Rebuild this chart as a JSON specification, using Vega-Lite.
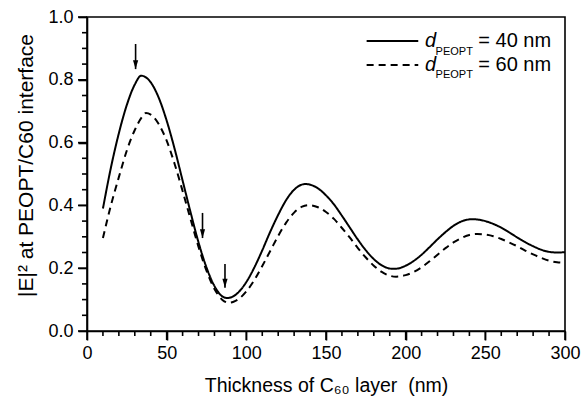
{
  "$schema": "https://vega.github.io/schema/vega-lite/v6.json",
  "width": 478,
  "height": 314,
  "autosize": "none",
  "padding": {"left": 87, "top": 17, "right": 23, "bottom": 67},
  "background": "white",
  "config": {
    "view": {"stroke": "black", "strokeWidth": 1.6},
    "font": "Liberation Sans"
  },
  "datasets": {
    "curves": [
      {"t": 10, "E2": 0.39, "d": "40 nm"}, {"t": 15, "E2": 0.52, "d": "40 nm"}, {"t": 20, "E2": 0.63, "d": "40 nm"},
      {"t": 25, "E2": 0.72, "d": "40 nm"}, {"t": 30, "E2": 0.785, "d": "40 nm"}, {"t": 34, "E2": 0.813, "d": "40 nm"},
      {"t": 40, "E2": 0.792, "d": "40 nm"}, {"t": 45, "E2": 0.743, "d": "40 nm"}, {"t": 50, "E2": 0.67, "d": "40 nm"},
      {"t": 55, "E2": 0.58, "d": "40 nm"}, {"t": 60, "E2": 0.479, "d": "40 nm"}, {"t": 65, "E2": 0.378, "d": "40 nm"},
      {"t": 70, "E2": 0.282, "d": "40 nm"}, {"t": 75, "E2": 0.202, "d": "40 nm"}, {"t": 80, "E2": 0.143, "d": "40 nm"},
      {"t": 85, "E2": 0.11, "d": "40 nm"}, {"t": 88, "E2": 0.105, "d": "40 nm"}, {"t": 92, "E2": 0.111, "d": "40 nm"},
      {"t": 95, "E2": 0.123, "d": "40 nm"}, {"t": 100, "E2": 0.156, "d": "40 nm"}, {"t": 105, "E2": 0.202, "d": "40 nm"},
      {"t": 110, "E2": 0.257, "d": "40 nm"}, {"t": 115, "E2": 0.316, "d": "40 nm"}, {"t": 120, "E2": 0.37, "d": "40 nm"},
      {"t": 125, "E2": 0.417, "d": "40 nm"}, {"t": 130, "E2": 0.45, "d": "40 nm"}, {"t": 137, "E2": 0.468, "d": "40 nm"},
      {"t": 140, "E2": 0.466, "d": "40 nm"}, {"t": 145, "E2": 0.454, "d": "40 nm"}, {"t": 150, "E2": 0.432, "d": "40 nm"},
      {"t": 155, "E2": 0.403, "d": "40 nm"}, {"t": 160, "E2": 0.367, "d": "40 nm"}, {"t": 165, "E2": 0.329, "d": "40 nm"},
      {"t": 170, "E2": 0.291, "d": "40 nm"}, {"t": 175, "E2": 0.257, "d": "40 nm"}, {"t": 180, "E2": 0.229, "d": "40 nm"},
      {"t": 185, "E2": 0.209, "d": "40 nm"}, {"t": 192, "E2": 0.198, "d": "40 nm"}, {"t": 195, "E2": 0.199, "d": "40 nm"},
      {"t": 200, "E2": 0.208, "d": "40 nm"}, {"t": 205, "E2": 0.223, "d": "40 nm"}, {"t": 210, "E2": 0.243, "d": "40 nm"},
      {"t": 215, "E2": 0.267, "d": "40 nm"}, {"t": 220, "E2": 0.292, "d": "40 nm"}, {"t": 225, "E2": 0.315, "d": "40 nm"},
      {"t": 230, "E2": 0.335, "d": "40 nm"}, {"t": 235, "E2": 0.349, "d": "40 nm"}, {"t": 242, "E2": 0.356, "d": "40 nm"},
      {"t": 245, "E2": 0.355, "d": "40 nm"}, {"t": 250, "E2": 0.35, "d": "40 nm"}, {"t": 255, "E2": 0.341, "d": "40 nm"},
      {"t": 260, "E2": 0.329, "d": "40 nm"}, {"t": 265, "E2": 0.314, "d": "40 nm"}, {"t": 270, "E2": 0.298, "d": "40 nm"},
      {"t": 275, "E2": 0.283, "d": "40 nm"}, {"t": 280, "E2": 0.27, "d": "40 nm"}, {"t": 285, "E2": 0.259, "d": "40 nm"},
      {"t": 290, "E2": 0.252, "d": "40 nm"}, {"t": 295, "E2": 0.25, "d": "40 nm"}, {"t": 300, "E2": 0.251, "d": "40 nm"},

      {"t": 10, "E2": 0.296, "d": "60 nm"}, {"t": 15, "E2": 0.4, "d": "60 nm"}, {"t": 20, "E2": 0.49, "d": "60 nm"},
      {"t": 25, "E2": 0.575, "d": "60 nm"}, {"t": 30, "E2": 0.64, "d": "60 nm"}, {"t": 35, "E2": 0.685, "d": "60 nm"},
      {"t": 37, "E2": 0.694, "d": "60 nm"}, {"t": 40, "E2": 0.689, "d": "60 nm"}, {"t": 45, "E2": 0.659, "d": "60 nm"},
      {"t": 50, "E2": 0.606, "d": "60 nm"}, {"t": 55, "E2": 0.532, "d": "60 nm"}, {"t": 60, "E2": 0.446, "d": "60 nm"},
      {"t": 65, "E2": 0.356, "d": "60 nm"}, {"t": 70, "E2": 0.268, "d": "60 nm"}, {"t": 75, "E2": 0.192, "d": "60 nm"},
      {"t": 80, "E2": 0.134, "d": "60 nm"}, {"t": 85, "E2": 0.099, "d": "60 nm"}, {"t": 89, "E2": 0.09, "d": "60 nm"},
      {"t": 92, "E2": 0.093, "d": "60 nm"}, {"t": 95, "E2": 0.101, "d": "60 nm"}, {"t": 100, "E2": 0.126, "d": "60 nm"},
      {"t": 105, "E2": 0.162, "d": "60 nm"}, {"t": 110, "E2": 0.207, "d": "60 nm"}, {"t": 115, "E2": 0.255, "d": "60 nm"},
      {"t": 120, "E2": 0.303, "d": "60 nm"}, {"t": 125, "E2": 0.345, "d": "60 nm"}, {"t": 130, "E2": 0.377, "d": "60 nm"},
      {"t": 135, "E2": 0.396, "d": "60 nm"}, {"t": 139, "E2": 0.401, "d": "60 nm"}, {"t": 145, "E2": 0.394, "d": "60 nm"},
      {"t": 150, "E2": 0.379, "d": "60 nm"}, {"t": 155, "E2": 0.357, "d": "60 nm"}, {"t": 160, "E2": 0.328, "d": "60 nm"},
      {"t": 165, "E2": 0.297, "d": "60 nm"}, {"t": 170, "E2": 0.264, "d": "60 nm"}, {"t": 175, "E2": 0.234, "d": "60 nm"},
      {"t": 180, "E2": 0.208, "d": "60 nm"}, {"t": 185, "E2": 0.188, "d": "60 nm"}, {"t": 190, "E2": 0.176, "d": "60 nm"},
      {"t": 194, "E2": 0.173, "d": "60 nm"}, {"t": 200, "E2": 0.178, "d": "60 nm"}, {"t": 205, "E2": 0.188, "d": "60 nm"},
      {"t": 210, "E2": 0.203, "d": "60 nm"}, {"t": 215, "E2": 0.222, "d": "60 nm"}, {"t": 220, "E2": 0.243, "d": "60 nm"},
      {"t": 225, "E2": 0.264, "d": "60 nm"}, {"t": 230, "E2": 0.282, "d": "60 nm"}, {"t": 235, "E2": 0.296, "d": "60 nm"},
      {"t": 240, "E2": 0.306, "d": "60 nm"}, {"t": 245, "E2": 0.309, "d": "60 nm"}, {"t": 250, "E2": 0.307, "d": "60 nm"},
      {"t": 255, "E2": 0.302, "d": "60 nm"}, {"t": 260, "E2": 0.293, "d": "60 nm"}, {"t": 265, "E2": 0.282, "d": "60 nm"},
      {"t": 270, "E2": 0.27, "d": "60 nm"}, {"t": 275, "E2": 0.256, "d": "60 nm"}, {"t": 280, "E2": 0.244, "d": "60 nm"},
      {"t": 285, "E2": 0.233, "d": "60 nm"}, {"t": 290, "E2": 0.224, "d": "60 nm"}, {"t": 295, "E2": 0.219, "d": "60 nm"},
      {"t": 300, "E2": 0.217, "d": "60 nm"}
    ],
    "arrows": [
      {"t": 30.5, "top": 0.914, "tip": 0.834},
      {"t": 72.5, "top": 0.376, "tip": 0.296},
      {"t": 86.6, "top": 0.213, "tip": 0.138}
    ],
    "xMajor": [{"v": 0}, {"v": 50}, {"v": 100}, {"v": 150}, {"v": 200}, {"v": 250}, {"v": 300}],
    "xMinor": [
      {"v": 10}, {"v": 20}, {"v": 30}, {"v": 40}, {"v": 60}, {"v": 70}, {"v": 80}, {"v": 90},
      {"v": 110}, {"v": 120}, {"v": 130}, {"v": 140}, {"v": 160}, {"v": 170}, {"v": 180}, {"v": 190},
      {"v": 210}, {"v": 220}, {"v": 230}, {"v": 240}, {"v": 260}, {"v": 270}, {"v": 280}, {"v": 290}
    ],
    "yMajor": [{"v": 0}, {"v": 0.2}, {"v": 0.4}, {"v": 0.6}, {"v": 0.8}, {"v": 1}],
    "yMinor": [
      {"v": 0.05}, {"v": 0.1}, {"v": 0.15}, {"v": 0.25}, {"v": 0.3}, {"v": 0.35}, {"v": 0.45}, {"v": 0.5},
      {"v": 0.55}, {"v": 0.65}, {"v": 0.7}, {"v": 0.75}, {"v": 0.85}, {"v": 0.9}, {"v": 0.95}
    ]
  },
  "resolve": {"axis": {"x": "independent", "y": "independent"}},
  "layer": [
    {
      "data": {"name": "curves"},
      "mark": {"type": "line", "interpolate": "monotone", "color": "black", "strokeWidth": 2},
      "encoding": {
        "x": {
          "field": "t",
          "type": "quantitative",
          "scale": {"domain": [0, 300], "nice": false},
          "axis": {
            "orient": "bottom",
            "values": [0, 50, 100, 150, 200, 250, 300],
            "gridOpacity": 0,
            "domainColor": "black",
            "domainWidth": 1.6,
            "tickSize": 9,
            "tickColor": "black",
            "tickWidth": 1.6,
            "labelColor": "black",
            "labelFont": "Liberation Sans",
            "labelFontSize": 18,
            "labelFlush": false,
            "labelPadding": 4,
            "title": "Thickness of C₆₀ layer\u00a0 (nm)",
            "titleColor": "black",
            "titleFont": "Liberation Sans",
            "titleFontWeight": "normal",
            "titleFontSize": 19.5,
            "titleY": 60,
            "titleBaseline": "alphabetic"
          }
        },
        "y": {
          "field": "E2",
          "type": "quantitative",
          "scale": {"domain": [0, 1], "nice": false},
          "axis": {
            "orient": "left",
            "values": [0, 0.2, 0.4, 0.6, 0.8, 1],
            "format": ".1f",
            "gridOpacity": 0,
            "domainColor": "black",
            "domainWidth": 1.6,
            "tickSize": 9,
            "tickColor": "black",
            "tickWidth": 1.6,
            "labelColor": "black",
            "labelFont": "Liberation Sans",
            "labelFontSize": 18,
            "labelPadding": 5,
            "title": "|E|² at PEOPT/C60 interface",
            "titleColor": "black",
            "titleFont": "Liberation Sans",
            "titleFontWeight": "normal",
            "titleFontSize": 21,
            "titleX": -55,
            "titleY": 148,
            "titleBaseline": "alphabetic"
          }
        },
        "strokeDash": {
          "field": "d",
          "type": "nominal",
          "scale": {"domain": ["40 nm", "60 nm"], "range": [[1, 0], [7, 5]]},
          "legend": null
        }
      }
    },
    {
      "data": {"name": "xMajor"},
      "mark": {"type": "rule", "color": "black", "strokeWidth": 1.6},
      "encoding": {
        "x": {"field": "v", "type": "quantitative", "axis": null},
        "y": {"datum": 0, "type": "quantitative", "axis": null},
        "y2": {"datum": -0.0287}
      }
    },
    {
      "data": {"name": "xMinor"},
      "mark": {"type": "rule", "color": "black", "strokeWidth": 1.6},
      "encoding": {
        "x": {"field": "v", "type": "quantitative", "axis": null},
        "y": {"datum": 0, "type": "quantitative", "axis": null},
        "y2": {"datum": -0.0159}
      }
    },
    {
      "data": {"name": "yMajor"},
      "mark": {"type": "rule", "color": "black", "strokeWidth": 1.6},
      "encoding": {
        "y": {"field": "v", "type": "quantitative", "axis": null},
        "x": {"datum": 0, "type": "quantitative", "axis": null},
        "x2": {"datum": -5.65}
      }
    },
    {
      "data": {"name": "yMinor"},
      "mark": {"type": "rule", "color": "black", "strokeWidth": 1.6},
      "encoding": {
        "y": {"field": "v", "type": "quantitative", "axis": null},
        "x": {"datum": 0, "type": "quantitative", "axis": null},
        "x2": {"datum": -3.14}
      }
    },
    {
      "data": {"name": "arrows"},
      "mark": {"type": "rule", "color": "black", "strokeWidth": 1.6},
      "encoding": {
        "x": {"field": "t", "type": "quantitative", "axis": null},
        "y": {"field": "top", "type": "quantitative", "axis": null},
        "y2": {"field": "tip"}
      }
    },
    {
      "data": {"name": "arrows"},
      "mark": {"type": "point", "shape": "M -0.65 -2.2 L 0.65 -2.2 L 0 0 Z", "filled": true, "color": "black", "opacity": 1, "size": 64, "strokeWidth": 0},
      "encoding": {
        "x": {"field": "t", "type": "quantitative", "axis": null},
        "y": {"field": "tip", "type": "quantitative", "axis": null}
      }
    },
    {
      "data": {"values": [{}]},
      "mark": {"type": "rule", "color": "black", "strokeWidth": 2},
      "encoding": {
        "x": {"datum": 175.5, "type": "quantitative", "axis": null},
        "x2": {"datum": 207.9},
        "y": {"datum": 0.9236, "type": "quantitative", "axis": null}
      }
    },
    {
      "data": {"values": [{}]},
      "mark": {"type": "rule", "color": "black", "strokeWidth": 2, "strokeDash": [7, 5]},
      "encoding": {
        "x": {"datum": 175.5, "type": "quantitative", "axis": null},
        "x2": {"datum": 207.9},
        "y": {"datum": 0.847, "type": "quantitative", "axis": null}
      }
    },
    {
      "data": {"values": [{}]},
      "mark": {"type": "text", "text": "d", "fontStyle": "italic", "fontSize": 20, "align": "left", "baseline": "alphabetic", "color": "black"},
      "encoding": {"x": {"datum": 212.1, "type": "quantitative", "axis": null}, "y": {"datum": 0.9045, "type": "quantitative", "axis": null}}
    },
    {
      "data": {"values": [{}]},
      "mark": {"type": "text", "text": "PEOPT", "fontSize": 11, "align": "left", "baseline": "alphabetic", "color": "black"},
      "encoding": {"x": {"datum": 218.8, "type": "quantitative", "axis": null}, "y": {"datum": 0.879, "type": "quantitative", "axis": null}}
    },
    {
      "data": {"values": [{}]},
      "mark": {"type": "text", "text": "= 40 nm", "fontSize": 20, "align": "left", "baseline": "alphabetic", "color": "black"},
      "encoding": {"x": {"datum": 245.6, "type": "quantitative", "axis": null}, "y": {"datum": 0.9045, "type": "quantitative", "axis": null}}
    },
    {
      "data": {"values": [{}]},
      "mark": {"type": "text", "text": "d", "fontStyle": "italic", "fontSize": 20, "align": "left", "baseline": "alphabetic", "color": "black"},
      "encoding": {"x": {"datum": 212.1, "type": "quantitative", "axis": null}, "y": {"datum": 0.8296, "type": "quantitative", "axis": null}}
    },
    {
      "data": {"values": [{}]},
      "mark": {"type": "text", "text": "PEOPT", "fontSize": 11, "align": "left", "baseline": "alphabetic", "color": "black"},
      "encoding": {"x": {"datum": 218.8, "type": "quantitative", "axis": null}, "y": {"datum": 0.8048, "type": "quantitative", "axis": null}}
    },
    {
      "data": {"values": [{}]},
      "mark": {"type": "text", "text": "= 60 nm", "fontSize": 20, "align": "left", "baseline": "alphabetic", "color": "black"},
      "encoding": {"x": {"datum": 245.6, "type": "quantitative", "axis": null}, "y": {"datum": 0.8296, "type": "quantitative", "axis": null}}
    }
  ]
}
